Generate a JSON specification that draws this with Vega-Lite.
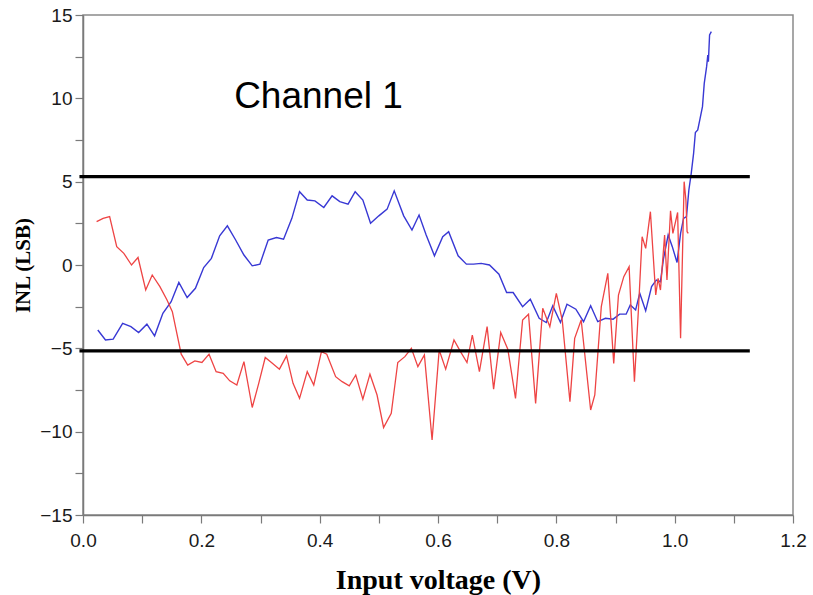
{
  "$schema": "https://vega.github.io/schema/vega-lite/v6.json",
  "width": 710,
  "height": 500,
  "autosize": "none",
  "padding": {"left": 83, "top": 15, "right": 20, "bottom": 80},
  "background": "white",
  "config": {
    "view": {"stroke": "#8a8a8a", "strokeWidth": 1.5},
    "axis": {
      "grid": false,
      "domainColor": "#7a7a7a",
      "domainWidth": 1.5,
      "tickColor": "#7a7a7a",
      "tickWidth": 1.2,
      "tickSize": 8,
      "labelFont": "Liberation Sans",
      "labelFontSize": 19,
      "labelColor": "#1a1a1a",
      "labelOverlap": false,
      "labelFlush": false,
      "titleFont": "Liberation Serif",
      "titleFontWeight": "bold",
      "titleColor": "#000000"
    }
  },
  "datasets": {
    "blue": [
      {"v":0.025,"inl":-3.9},{"v":0.038,"inl":-4.5},{"v":0.051,"inl":-4.45},{"v":0.067,"inl":-3.5},{"v":0.081,"inl":-3.7},{"v":0.094,"inl":-4.05},{"v":0.108,"inl":-3.55},{"v":0.121,"inl":-4.25},{"v":0.135,"inl":-2.9},{"v":0.149,"inl":-2.2},{"v":0.162,"inl":-1.05},{"v":0.176,"inl":-1.95},{"v":0.19,"inl":-1.4},{"v":0.204,"inl":-0.15},{"v":0.217,"inl":0.4},{"v":0.231,"inl":1.75},{"v":0.244,"inl":2.35},{"v":0.258,"inl":1.5},{"v":0.272,"inl":0.6},{"v":0.286,"inl":-0.05},{"v":0.299,"inl":0.05},{"v":0.313,"inl":1.5},{"v":0.327,"inl":1.65},{"v":0.339,"inl":1.55},{"v":0.353,"inl":2.8},{"v":0.366,"inl":4.4},{"v":0.379,"inl":3.9},{"v":0.392,"inl":3.85},{"v":0.407,"inl":3.45},{"v":0.421,"inl":4.15},{"v":0.434,"inl":3.8},{"v":0.448,"inl":3.65},{"v":0.46,"inl":4.4},{"v":0.473,"inl":3.9},{"v":0.486,"inl":2.5},{"v":0.5,"inl":2.95},{"v":0.514,"inl":3.35},{"v":0.526,"inl":4.45},{"v":0.542,"inl":2.95},{"v":0.556,"inl":2.1},{"v":0.568,"inl":3.0},{"v":0.58,"inl":1.8},{"v":0.594,"inl":0.55},{"v":0.608,"inl":1.7},{"v":0.618,"inl":2.0},{"v":0.634,"inl":0.55},{"v":0.648,"inl":0.05},{"v":0.66,"inl":0.05},{"v":0.673,"inl":0.1},{"v":0.687,"inl":0.0},{"v":0.703,"inl":-0.55},{"v":0.716,"inl":-1.65},{"v":0.727,"inl":-1.65},{"v":0.743,"inl":-2.5},{"v":0.756,"inl":-2.05},{"v":0.771,"inl":-3.2},{"v":0.783,"inl":-3.45},{"v":0.794,"inl":-2.45},{"v":0.807,"inl":-3.45},{"v":0.818,"inl":-2.35},{"v":0.833,"inl":-2.65},{"v":0.846,"inl":-3.4},{"v":0.858,"inl":-2.45},{"v":0.87,"inl":-3.4},{"v":0.883,"inl":-3.2},{"v":0.896,"inl":-3.25},{"v":0.907,"inl":-2.95},{"v":0.918,"inl":-2.95},{"v":0.925,"inl":-2.4},{"v":0.934,"inl":-2.7},{"v":0.941,"inl":-1.7},{"v":0.951,"inl":-2.75},{"v":0.961,"inl":-1.3},{"v":0.969,"inl":-0.9},{"v":0.976,"inl":-1.0},{"v":0.981,"inl":0.35},{"v":0.989,"inl":1.8},{"v":0.996,"inl":1.1},{"v":1.004,"inl":0.15},{"v":1.01,"inl":1.9},{"v":1.015,"inl":2.8},{"v":1.02,"inl":2.9},{"v":1.024,"inl":4.5},{"v":1.028,"inl":5.5},{"v":1.032,"inl":6.7},{"v":1.035,"inl":7.95},{"v":1.039,"inl":8.1},{"v":1.043,"inl":8.8},{"v":1.047,"inl":9.5},{"v":1.05,"inl":10.9},{"v":1.054,"inl":11.9},{"v":1.056,"inl":12.6},{"v":1.057,"inl":12.2},{"v":1.059,"inl":13.8},{"v":1.062,"inl":14.0}
    ],
    "red": [
      {"v":0.023,"inl":2.6},{"v":0.034,"inl":2.8},{"v":0.045,"inl":2.9},{"v":0.057,"inl":1.1},{"v":0.069,"inl":0.7},{"v":0.082,"inl":0.0},{"v":0.093,"inl":0.45},{"v":0.106,"inl":-1.5},{"v":0.117,"inl":-0.6},{"v":0.13,"inl":-1.3},{"v":0.142,"inl":-2.1},{"v":0.151,"inl":-2.8},{"v":0.158,"inl":-4.0},{"v":0.166,"inl":-5.35},{"v":0.177,"inl":-6.0},{"v":0.189,"inl":-5.75},{"v":0.201,"inl":-5.85},{"v":0.213,"inl":-5.35},{"v":0.225,"inl":-6.4},{"v":0.237,"inl":-6.5},{"v":0.248,"inl":-6.95},{"v":0.26,"inl":-7.2},{"v":0.272,"inl":-5.8},{"v":0.286,"inl":-8.55},{"v":0.297,"inl":-7.1},{"v":0.308,"inl":-5.55},{"v":0.32,"inl":-5.9},{"v":0.332,"inl":-6.25},{"v":0.344,"inl":-5.45},{"v":0.355,"inl":-7.1},{"v":0.366,"inl":-8.0},{"v":0.379,"inl":-6.4},{"v":0.39,"inl":-7.2},{"v":0.403,"inl":-5.2},{"v":0.412,"inl":-5.35},{"v":0.427,"inl":-6.7},{"v":0.438,"inl":-7.0},{"v":0.45,"inl":-7.25},{"v":0.461,"inl":-6.6},{"v":0.473,"inl":-8.05},{"v":0.485,"inl":-6.55},{"v":0.497,"inl":-7.8},{"v":0.508,"inl":-9.75},{"v":0.521,"inl":-8.9},{"v":0.532,"inl":-5.85},{"v":0.544,"inl":-5.5},{"v":0.555,"inl":-5.0},{"v":0.566,"inl":-6.1},{"v":0.577,"inl":-5.4},{"v":0.59,"inl":-10.5},{"v":0.602,"inl":-5.1},{"v":0.613,"inl":-6.25},{"v":0.627,"inl":-4.5},{"v":0.638,"inl":-5.2},{"v":0.649,"inl":-5.85},{"v":0.658,"inl":-4.2},{"v":0.67,"inl":-6.4},{"v":0.683,"inl":-3.7},{"v":0.694,"inl":-7.45},{"v":0.706,"inl":-4.05},{"v":0.718,"inl":-5.05},{"v":0.731,"inl":-8.0},{"v":0.743,"inl":-3.3},{"v":0.753,"inl":-2.95},{"v":0.765,"inl":-8.3},{"v":0.777,"inl":-2.6},{"v":0.789,"inl":-3.7},{"v":0.8,"inl":-1.7},{"v":0.81,"inl":-3.3},{"v":0.823,"inl":-8.2},{"v":0.831,"inl":-4.4},{"v":0.842,"inl":-3.3},{"v":0.858,"inl":-8.7},{"v":0.865,"inl":-7.8},{"v":0.876,"inl":-2.5},{"v":0.887,"inl":-0.5},{"v":0.897,"inl":-5.9},{"v":0.905,"inl":-1.8},{"v":0.914,"inl":-0.7},{"v":0.923,"inl":-0.1},{"v":0.932,"inl":-7.0},{"v":0.939,"inl":-2.5},{"v":0.945,"inl":1.7},{"v":0.951,"inl":1.0},{"v":0.959,"inl":3.2},{"v":0.968,"inl":-1.8},{"v":0.972,"inl":-0.8},{"v":0.976,"inl":-1.5},{"v":0.983,"inl":1.8},{"v":0.987,"inl":-0.9},{"v":0.993,"inl":3.25},{"v":0.997,"inl":1.9},{"v":1.005,"inl":3.15},{"v":1.01,"inl":-4.4},{"v":1.016,"inl":5.0},{"v":1.019,"inl":3.9},{"v":1.021,"inl":2.0},{"v":1.023,"inl":1.9}
    ],
    "limits": [
      {"v1": -0.006, "v2": 1.127, "inl": 5.3},
      {"v1": -0.006, "v2": 1.127, "inl": -5.15}
    ],
    "label": [
      {"v": 0.398, "inl": 10.1, "text": "Channel 1"}
    ]
  },
  "layer": [
    {
      "data": {"name": "blue"},
      "mark": {"type": "line", "color": "#3838d4", "strokeWidth": 1.4},
      "encoding": {
        "x": {
          "field": "v", "type": "quantitative",
          "scale": {"domain": [0, 1.2], "nice": false, "zero": false},
          "axis": {
            "title": "Input voltage (V)",
            "titleFontSize": 28,
            "titlePadding": 16,
            "labelPadding": 8,
            "values": [0,0.05,0.1,0.15,0.2,0.25,0.3,0.35,0.4,0.45,0.5,0.55,0.6,0.65,0.7,0.75,0.8,0.85,0.9,0.95,1.0,1.05,1.1,1.15,1.2],
            "labelExpr": "abs(datum.value*5 - round(datum.value*5)) < 0.001 ? format(datum.value, '.1f') : ''"
          }
        },
        "y": {
          "field": "inl", "type": "quantitative",
          "scale": {"domain": [-15, 15], "nice": false, "zero": false},
          "axis": {
            "title": "INL (LSB)",
            "titleFontSize": 21,
            "titlePadding": 6,
            "labelPadding": 3,
            "values": [-15,-13.75,-12.5,-11.25,-10,-8.75,-7.5,-6.25,-5,-3.75,-2.5,-1.25,0,1.25,2.5,3.75,5,6.25,7.5,8.75,10,11.25,12.5,13.75,15],
            "labelExpr": "abs(datum.value/5 - round(datum.value/5)) < 0.001 ? format(datum.value, 'd') : ''"
          }
        }
      }
    },
    {
      "data": {"name": "red"},
      "mark": {"type": "line", "color": "#ee4444", "strokeWidth": 1.3},
      "encoding": {
        "x": {"field": "v", "type": "quantitative"},
        "y": {"field": "inl", "type": "quantitative"}
      }
    },
    {
      "data": {"name": "limits"},
      "mark": {"type": "rule", "color": "#000000", "strokeWidth": 3.2},
      "encoding": {
        "x": {"field": "v1", "type": "quantitative"},
        "x2": {"field": "v2"},
        "y": {"field": "inl", "type": "quantitative"}
      }
    },
    {
      "data": {"name": "label"},
      "mark": {"type": "text", "font": "Liberation Sans", "fontSize": 37, "color": "#000000", "align": "center", "baseline": "middle"},
      "encoding": {
        "x": {"field": "v", "type": "quantitative"},
        "y": {"field": "inl", "type": "quantitative"},
        "text": {"field": "text"}
      }
    }
  ]
}
